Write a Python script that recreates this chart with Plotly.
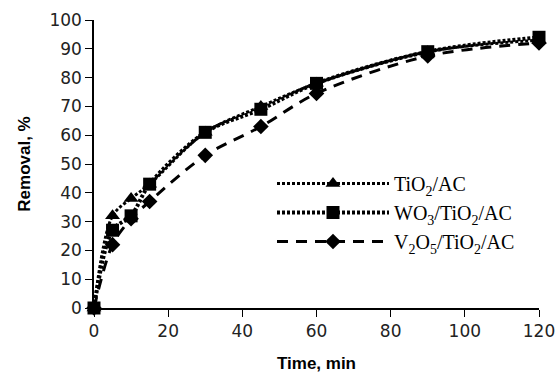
import plotly.graph_objects as go

# Sampling times (min)
time_min = [0, 5, 10, 15, 30, 45, 60, 90, 120]

# Removal efficiency (%) for each catalyst
removal_tio2 = [0, 32, 38, 43, 61, 70, 78, 89, 93]
removal_wo3 = [0, 27, 32, 43, 61, 69, 78, 89, 94]
removal_v2o5 = [0, 22, 31, 37, 53, 63, 74.5, 87.5, 92]

series = [
    ("TiO<sub>2</sub>/AC", removal_tio2, "triangle-up", 13, "3px,2px", 3),
    ("WO<sub>3</sub>/TiO<sub>2</sub>/AC", removal_wo3, "square", 13, "3px,2px", 4),
    ("V<sub>2</sub>O<sub>5</sub>/TiO<sub>2</sub>/AC", removal_v2o5, "diamond", 12, "11px,8px", 3),
]

fig = go.Figure()
for name, vals, sym, size, dash, lw in series:
    fig.add_trace(go.Scatter(
        x=time_min, y=vals, name=name, mode="lines+markers",
        line=dict(color="black", width=lw, dash=dash, shape="spline", smoothing=0.9),
        marker=dict(symbol=sym, size=size, color="black"),
        cliponaxis=False,
    ))

axis_font = dict(family="DejaVu Sans", size=17, color="#222")
title_font = dict(family="Liberation Sans", size=17, color="black")
fig.update_layout(
    width=557, height=374,
    margin=dict(l=94, r=18, t=20, b=66),
    paper_bgcolor="white", plot_bgcolor="white",
    showlegend=True,
    legend=dict(
        x=0.40, y=0.50, xanchor="left", yanchor="top",
        font=dict(family="Liberation Serif", size=20, color="black"),
        itemwidth=112, tracegroupgap=0, bgcolor="rgba(0,0,0,0)",
    ),
    xaxis=dict(
        range=[0, 120], tickvals=[0, 20, 40, 60, 80, 100, 120], automargin=False,
        showgrid=False, zeroline=False, showline=True, linecolor="black", linewidth=1.5,
        ticks="outside", ticklen=7, tickcolor="black", tickfont=axis_font,
        title=dict(text="<b>Time, min</b>", font=title_font, standoff=17),
    ),
    yaxis=dict(
        range=[0, 100], tickvals=list(range(0, 101, 10)), automargin=False,
        showgrid=False, zeroline=False, showline=True, linecolor="black", linewidth=1.5,
        ticks="outside", ticklen=7, tickcolor="black", tickfont=axis_font,
        title=dict(text="<b>Removal, %</b>", font=title_font, standoff=14),
    ),
)

fig.write_html("out.html")
